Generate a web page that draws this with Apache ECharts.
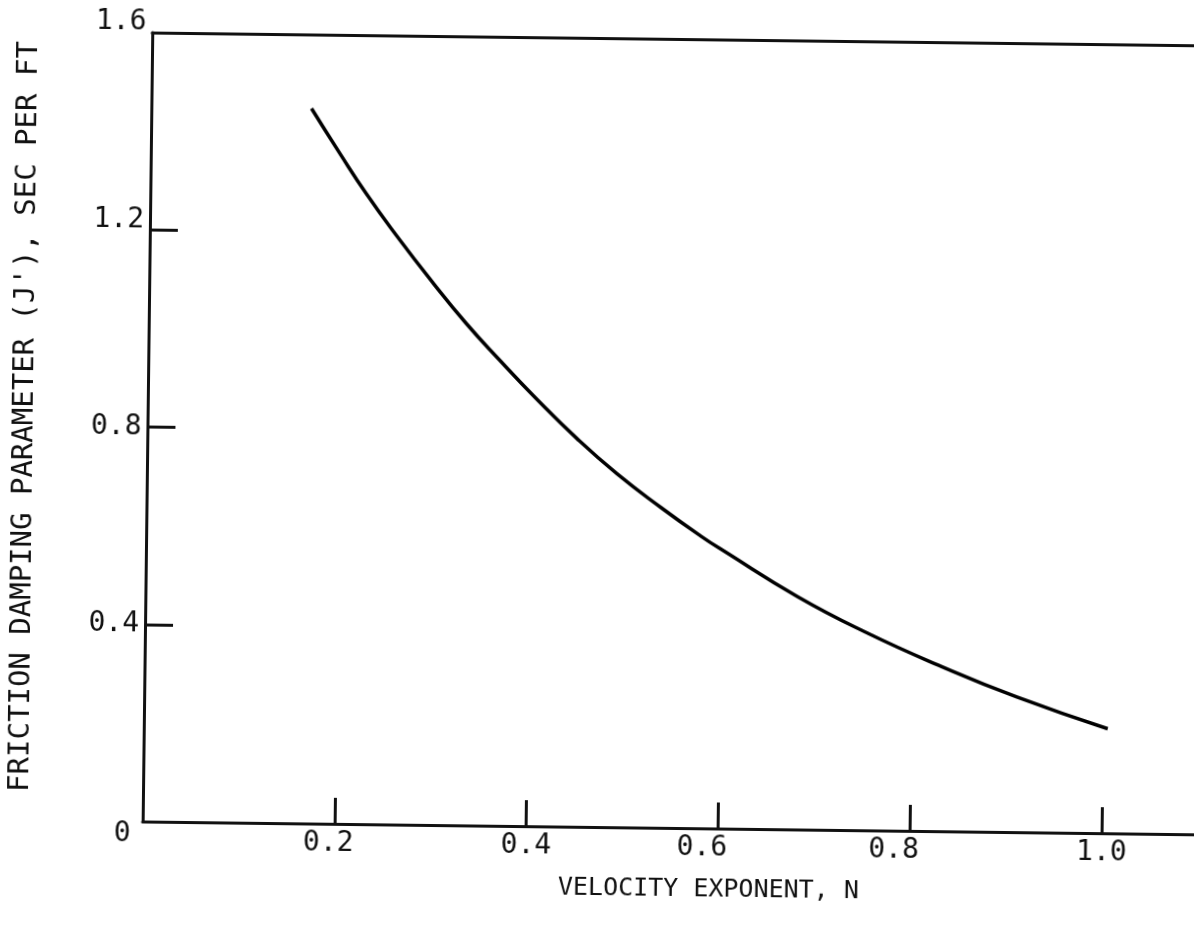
<!DOCTYPE html>
<html>
<head>
<meta charset="utf-8">
<script src="https://cdn.jsdelivr.net/npm/echarts@6/dist/echarts.min.js"></script>
<style>
	html, body { margin: 0; padding: 0; background: #fff; overflow: hidden; }
	/* the scanned page sits a little askew, so the whole chart is turned slightly */
	#main { position: absolute; left: -10px; top: -8px; width: 1214px; height: 950px; transform: rotate(0.7deg); }
</style>
</head>
<body>
<div id="main"></div>
<script>
// velocity exponent N and friction damping parameter J'
const nValues = [0.167, 0.197, 0.225, 0.257, 0.296, 0.331, 0.367, 0.402, 0.448, 0.49, 0.536, 0.578, 0.604, 0.68, 0.751, 0.831, 0.91, 1.005]
const jValues = [1.45, 1.36, 1.279, 1.195, 1.099, 1.018, 0.943, 0.873, 0.787, 0.717, 0.65, 0.593, 0.561, 0.472, 0.402, 0.334, 0.274, 0.212]

const xTickValues = [0.2, 0.4, 0.6, 0.8, 1.0]
const yTickValues = [0.4, 0.8, 1.2]
const yLabelValues = [0, 0.4, 0.8, 1.2, 1.6]

const font = 'DejaVu Sans Mono'
const ink = '#111'

let myChart = echarts.init(document.getElementById('main'))

let option = {
	backgroundColor: '#fff',
	animation: false,
	grid: {
		left: 157,
		top: 46,
		width: 1055,
		height: 789,
		containLabel: false,
		outerBoundsMode: 'none'
	},
	xAxis: [{
		type: 'value',
		min: 0,
		max: 1.1,
		name: 'VELOCITY EXPONENT, N',
		nameLocation: 'middle',
		nameGap: 49,
		nameTextStyle: {
			fontFamily: font,
			fontSize: 25,
			color: ink,
			padding: [0, 0, 0, 78]
		},
		axisLine: { onZero: false, lineStyle: { color: ink, width: 3 } },
		axisTick: {
			inside: true,
			length: 26,
			customValues: xTickValues,
			lineStyle: { color: ink, width: 3 }
		},
		axisLabel: {
			customValues: xTickValues,
			margin: 6,
			fontFamily: font,
			fontSize: 28,
			color: ink,
			formatter: function(v) {
				let s = v.toFixed(1)
				if (v === 0.6 || v === 0.8) return '{l|' + s + '}'
				if (v === 0.2) return '{s|' + s + '}'
				return s
			},
			rich: {
				l: { fontFamily: font, fontSize: 28, color: ink, padding: [0, 32, 0, 0] },
				s: { fontFamily: font, fontSize: 28, color: ink, padding: [0, 12, 0, 0] }
			}
		},
		splitLine: { show: false }
	}, {
		// the frame line along the top
		type: 'value',
		position: 'top',
		min: 0,
		max: 1.1,
		axisLine: { show: true, onZero: false, lineStyle: { color: ink, width: 3 } },
		axisTick: { show: false },
		axisLabel: { show: false },
		splitLine: { show: false }
	}],
	yAxis: {
		type: 'value',
		min: 0,
		max: 1.6,
		name: "FRICTION DAMPING PARAMETER (J'), SEC PER FT",
		nameLocation: 'middle',
		nameGap: 108,
		nameTextStyle: {
			fontFamily: font,
			fontSize: 29,
			color: ink,
			padding: [0, 0, 0, 18]
		},
		axisLine: { show: true, lineStyle: { color: ink, width: 3 } },
		axisTick: {
			inside: true,
			length: 28,
			customValues: yTickValues,
			lineStyle: { color: ink, width: 3 }
		},
		axisLabel: {
			customValues: yLabelValues,
			margin: 6,
			fontFamily: font,
			fontSize: 28,
			color: ink,
			formatter: function(v) {
				if (v === 0) return '{z|0}'
				let s = v.toFixed(1)
				if (v === 1.6 || v === 1.2) return '{u|' + s + '}'
				return s
			},
			rich: {
				z: { fontFamily: font, fontSize: 28, color: ink, padding: [26, 6, 0, 0] },
				u: { fontFamily: font, fontSize: 28, color: ink, padding: [0, 0, 20, 0] }
			}
		},
		splitLine: { show: false }
	},
	series: [{
		type: 'line',
		data: nValues.map((n, i) => [n, jValues[i]]),
		smooth: 0.5,
		showSymbol: false,
		lineStyle: { color: '#000', width: 3.5 }
	}]
}
myChart.setOption(option)
</script>
</body>
</html>
